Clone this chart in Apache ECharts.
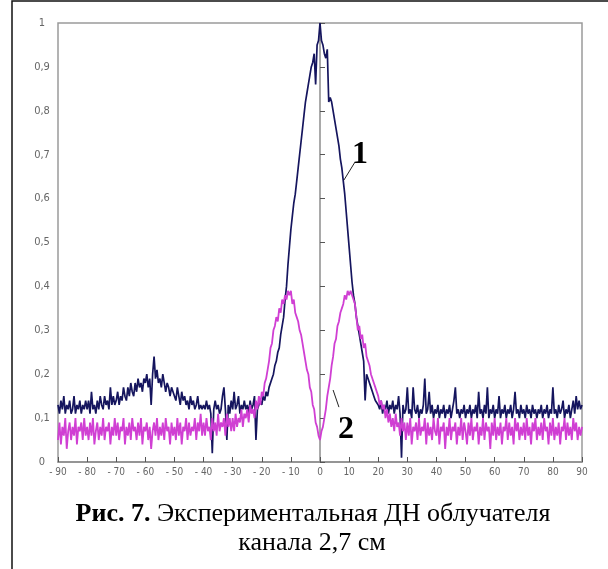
<!DOCTYPE html>
<html>
<head>
<meta charset="utf-8">
<script src="https://cdn.jsdelivr.net/npm/echarts@6/dist/echarts.min.js"></script>
<style>
  html, body { margin: 0; padding: 0; background: #fff; }
  #main { width: 608px; height: 569px; }
</style>
</head>
<body>
<div id="main"></div>
<script>
// angles, deg: -90 .. 90 step 0.5
var angleMin = -90, angleMax = 90, angleStep = 0.5;

// curve 1 (dark), one row = 10 degrees (20 samples)
var curve1 = [
  0.13,0.11,0.14,0.12,0.15,0.11,0.13,0.12,0.14,0.11, 0.12,0.15,0.11,0.13,0.12,0.14,0.11,0.13,0.12,0.14,  // -90
  0.12,0.14,0.11,0.16,0.12,0.13,0.11,0.14,0.12,0.15, 0.13,0.12,0.15,0.13,0.14,0.12,0.17,0.13,0.15,0.13,  // -80
  0.14,0.16,0.13,0.15,0.14,0.17,0.15,0.14,0.17,0.15, 0.18,0.16,0.15,0.18,0.16,0.19,0.17,0.18,0.16,0.19,  // -70
  0.18,0.20,0.17,0.19,0.13,0.20,0.24,0.19,0.21,0.18, 0.19,0.17,0.20,0.18,0.16,0.18,0.17,0.15,0.17,0.16,  // -60
  0.16,0.14,0.17,0.15,0.13,0.16,0.14,0.15,0.13,0.14, 0.12,0.15,0.13,0.14,0.12,0.13,0.15,0.12,0.13,0.12,  // -50
  0.13,0.12,0.14,0.12,0.13,0.11,0.02,0.12,0.14,0.12, 0.13,0.11,0.12,0.15,0.17,0.12,0.05,0.13,0.11,0.14,  // -40
  0.12,0.16,0.12,0.13,0.15,0.11,0.13,0.12,0.14,0.12, 0.13,0.11,0.14,0.12,0.13,0.15,0.05,0.12,0.13,0.14,  // -30
  0.13,0.15,0.14,0.16,0.15,0.17,0.17,0.19,0.20,0.22, 0.23,0.25,0.26,0.29,0.31,0.33,0.37,0.40,0.45,0.49,  // -20
  0.53,0.56,0.59,0.61,0.64,0.67,0.70,0.73,0.76,0.79, 0.82,0.84,0.86,0.88,0.90,0.91,0.93,0.86,0.95,0.96,  // -10
  1.00,0.96,0.95,0.93,0.92,0.94,0.82,0.83,0.82,0.80, 0.78,0.76,0.74,0.72,0.69,0.67,0.64,0.61,0.57,0.53,  // 0
  0.49,0.45,0.41,0.38,0.36,0.33,0.31,0.29,0.27,0.25, 0.23,0.14,0.20,0.19,0.18,0.17,0.16,0.15,0.14,0.14,  // 10
  0.13,0.12,0.14,0.11,0.13,0.12,0.14,0.11,0.13,0.12, 0.14,0.11,0.13,0.12,0.15,0.11,0.01,0.13,0.11,0.12,  // 20
  0.17,0.11,0.12,0.10,0.17,0.12,0.11,0.13,0.10,0.12, 0.11,0.13,0.19,0.11,0.12,0.16,0.11,0.13,0.10,0.12,  // 30
  0.11,0.13,0.10,0.12,0.11,0.13,0.10,0.12,0.11,0.13, 0.10,0.12,0.14,0.17,0.11,0.12,0.10,0.12,0.11,0.13,  // 40
  0.10,0.12,0.11,0.13,0.10,0.12,0.11,0.13,0.10,0.16, 0.11,0.12,0.10,0.13,0.11,0.17,0.10,0.12,0.11,0.13,  // 50
  0.10,0.12,0.11,0.15,0.10,0.12,0.11,0.13,0.10,0.12, 0.11,0.13,0.10,0.12,0.16,0.11,0.12,0.10,0.13,0.11,  // 60
  0.12,0.10,0.13,0.11,0.12,0.10,0.13,0.11,0.12,0.10, 0.12,0.11,0.13,0.10,0.12,0.11,0.13,0.10,0.12,0.11,  // 70
  0.17,0.11,0.12,0.10,0.13,0.11,0.12,0.14,0.10,0.12, 0.11,0.13,0.10,0.12,0.14,0.11,0.15,0.12,0.14,0.12,  // 80
  0.13                                                                                                   // 90
];

// curve 2 (magenta)
var curve2 = [
  0.05,0.09,0.04,0.08,0.06,0.10,0.03,0.07,0.09,0.05, 0.08,0.06,0.10,0.04,0.08,0.07,0.09,0.05,0.10,0.06,  // -90
  0.08,0.05,0.09,0.06,0.10,0.04,0.07,0.09,0.05,0.08, 0.06,0.10,0.05,0.08,0.07,0.09,0.04,0.08,0.06,0.10,  // -80
  0.06,0.09,0.05,0.08,0.07,0.10,0.04,0.08,0.06,0.09, 0.05,0.10,0.07,0.08,0.05,0.09,0.06,0.10,0.04,0.08,  // -70
  0.07,0.09,0.05,0.08,0.03,0.07,0.09,0.06,0.10,0.05, 0.08,0.06,0.09,0.05,0.10,0.07,0.08,0.04,0.09,0.06,  // -60
  0.08,0.05,0.10,0.06,0.09,0.04,0.08,0.07,0.10,0.05, 0.09,0.06,0.08,0.07,0.10,0.05,0.09,0.07,0.11,0.06,  // -50
  0.09,0.06,0.10,0.07,0.08,0.05,0.10,0.07,0.09,0.06, 0.11,0.07,0.09,0.08,0.10,0.06,0.11,0.08,0.10,0.07,  // -40
  0.10,0.07,0.11,0.08,0.10,0.09,0.12,0.08,0.11,0.10, 0.12,0.09,0.13,0.11,0.12,0.10,0.14,0.12,0.15,0.13,  // -30
  0.16,0.15,0.18,0.19,0.21,0.23,0.26,0.27,0.30,0.31, 0.33,0.32,0.35,0.34,0.37,0.36,0.38,0.37,0.39,0.38,  // -20
  0.39,0.36,0.37,0.34,0.33,0.32,0.30,0.29,0.27,0.25, 0.23,0.21,0.20,0.17,0.16,0.13,0.12,0.09,0.08,0.06,  // -10
  0.05,0.07,0.08,0.10,0.12,0.15,0.17,0.19,0.22,0.24, 0.27,0.28,0.31,0.32,0.34,0.35,0.36,0.38,0.37,0.39,  // 0
  0.38,0.39,0.39,0.37,0.36,0.33,0.30,0.31,0.28,0.29, 0.26,0.27,0.24,0.23,0.22,0.20,0.20,0.18,0.17,0.16,  // 10
  0.15,0.13,0.14,0.12,0.13,0.10,0.12,0.09,0.11,0.08, 0.10,0.07,0.11,0.08,0.09,0.06,0.10,0.07,0.09,0.05,  // 20
  0.09,0.06,0.10,0.04,0.08,0.07,0.09,0.05,0.10,0.06, 0.08,0.07,0.10,0.04,0.09,0.06,0.08,0.05,0.10,0.07,  // 30
  0.06,0.10,0.04,0.08,0.07,0.09,0.03,0.08,0.06,0.10, 0.05,0.08,0.07,0.09,0.04,0.08,0.06,0.10,0.05,0.09,  // 40
  0.07,0.04,0.09,0.06,0.10,0.05,0.08,0.07,0.09,0.04, 0.08,0.06,0.10,0.05,0.09,0.07,0.08,0.03,0.09,0.06,  // 50
  0.10,0.05,0.08,0.06,0.09,0.04,0.08,0.07,0.10,0.05, 0.09,0.06,0.08,0.04,0.10,0.07,0.09,0.05,0.08,0.06,  // 60
  0.09,0.05,0.10,0.06,0.08,0.04,0.09,0.07,0.10,0.05, 0.08,0.06,0.09,0.05,0.10,0.07,0.08,0.04,0.09,0.06,  // 70
  0.10,0.05,0.08,0.06,0.09,0.04,0.08,0.07,0.10,0.05, 0.09,0.06,0.08,0.05,0.10,0.07,0.09,0.05,0.08,0.06,  // 80
  0.08                                                                                                   // 90
];

// curve labels: [text, label x, y, leader from x, y, leader to x, y] in data units
var curveLabels = [
  ['1', 13.7, 0.70, 12.0, 0.683, 8.2, 0.642],
  ['2', 8.9, 0.073, 4.5, 0.164, 6.5, 0.125]
];

var captionBold = 'Рис. 7.';
var captionRest = ' Экспериментальная ДН облучателя';
var captionLine2 = 'канала 2,7 см';

function pairs(vals) {
  return vals.map(function (v, i) { return [angleMin + i * angleStep, v]; });
}

var chart = echarts.init(document.getElementById('main'), null, { renderer: 'canvas' });

var tickFont = 'Liberation Sans Narrow, DejaVu Sans Condensed, sans-serif';

var option = {
  animation: false,
  backgroundColor: '#fff',
  grid: {
    left: 58, top: 23, right: 26, bottom: 107,
    show: true, borderColor: '#9a9a9a', borderWidth: 1.5, backgroundColor: 'transparent'
  },
  xAxis: {
    type: 'value', min: angleMin, max: angleMax, interval: 10,
    axisLine: { lineStyle: { color: '#8c8c8c', width: 1.5 } },
    axisTick: { inside: true, length: 5, lineStyle: { color: '#555' } },
    splitLine: { show: false },
    axisLabel: {
      margin: 5, color: '#666', fontSize: 10, fontFamily: tickFont,
      formatter: function (v) { return v < 0 ? '- ' + (-v) : String(v); }
    }
  },
  yAxis: {
    type: 'value', min: 0, max: 1, interval: 0.1,
    axisLine: { lineStyle: { color: '#8c8c8c', width: 1.5 } },
    axisTick: { inside: true, length: 5, lineStyle: { color: '#555' } },
    splitLine: { show: false },
    axisLabel: {
      margin: 16, align: 'center', color: '#666', fontSize: 11, fontFamily: tickFont,
      formatter: function (v) {
        if (v === 0) return '0';
        if (Math.abs(v - 1) < 1e-9) return '1';
        return v.toFixed(1).replace('.', ',');
      }
    }
  },
  series: [
    {
      name: '1', type: 'line', data: pairs(curve1), symbol: 'none',
      lineStyle: { color: '#15155e', width: 1.7 }, z: 2
    },
    {
      name: '2', type: 'line', data: pairs(curve2), symbol: 'none',
      lineStyle: { color: '#d03fd3', width: 1.8 }, z: 3
    }
  ]
};

chart.setOption(option);

var capFont = '26px "Liberation Serif", "Times New Roman", serif';
var g = [
  {
    type: 'rect', silent: true,
    shape: { x: 12, y: 1, width: 640, height: 620 },
    style: { fill: 'none', stroke: '#111', lineWidth: 1.5 }
  },
  {
    type: 'text', x: 313, y: 514,
    style: {
      text: '{b|' + captionBold + '}' + captionRest,
      font: capFont, fill: '#000', align: 'center', verticalAlign: 'middle',
      rich: { b: { fontWeight: 'bold', fontSize: 26, fontFamily: 'Liberation Serif' } }
    }
  },
  {
    type: 'text', x: 312, y: 543,
    style: {
      text: captionLine2, font: capFont,
      fill: '#000', align: 'center', verticalAlign: 'middle'
    }
  }
];

curveLabels.forEach(function (c) {
  var p = chart.convertToPixel({ gridIndex: 0 }, [c[1], c[2]]);
  var a = chart.convertToPixel({ gridIndex: 0 }, [c[3], c[4]]);
  var b = chart.convertToPixel({ gridIndex: 0 }, [c[5], c[6]]);
  g.push({
    type: 'text', x: p[0], y: p[1], z: 10,
    style: {
      text: c[0], font: 'bold 32px "Liberation Serif", serif',
      fill: '#000', align: 'center', verticalAlign: 'middle'
    }
  });
  g.push({
    type: 'line', z: 10,
    shape: { x1: a[0], y1: a[1], x2: b[0], y2: b[1] },
    style: { stroke: '#222', lineWidth: 1 }
  });
});

chart.setOption({ graphic: g });
</script>
</body>
</html>
